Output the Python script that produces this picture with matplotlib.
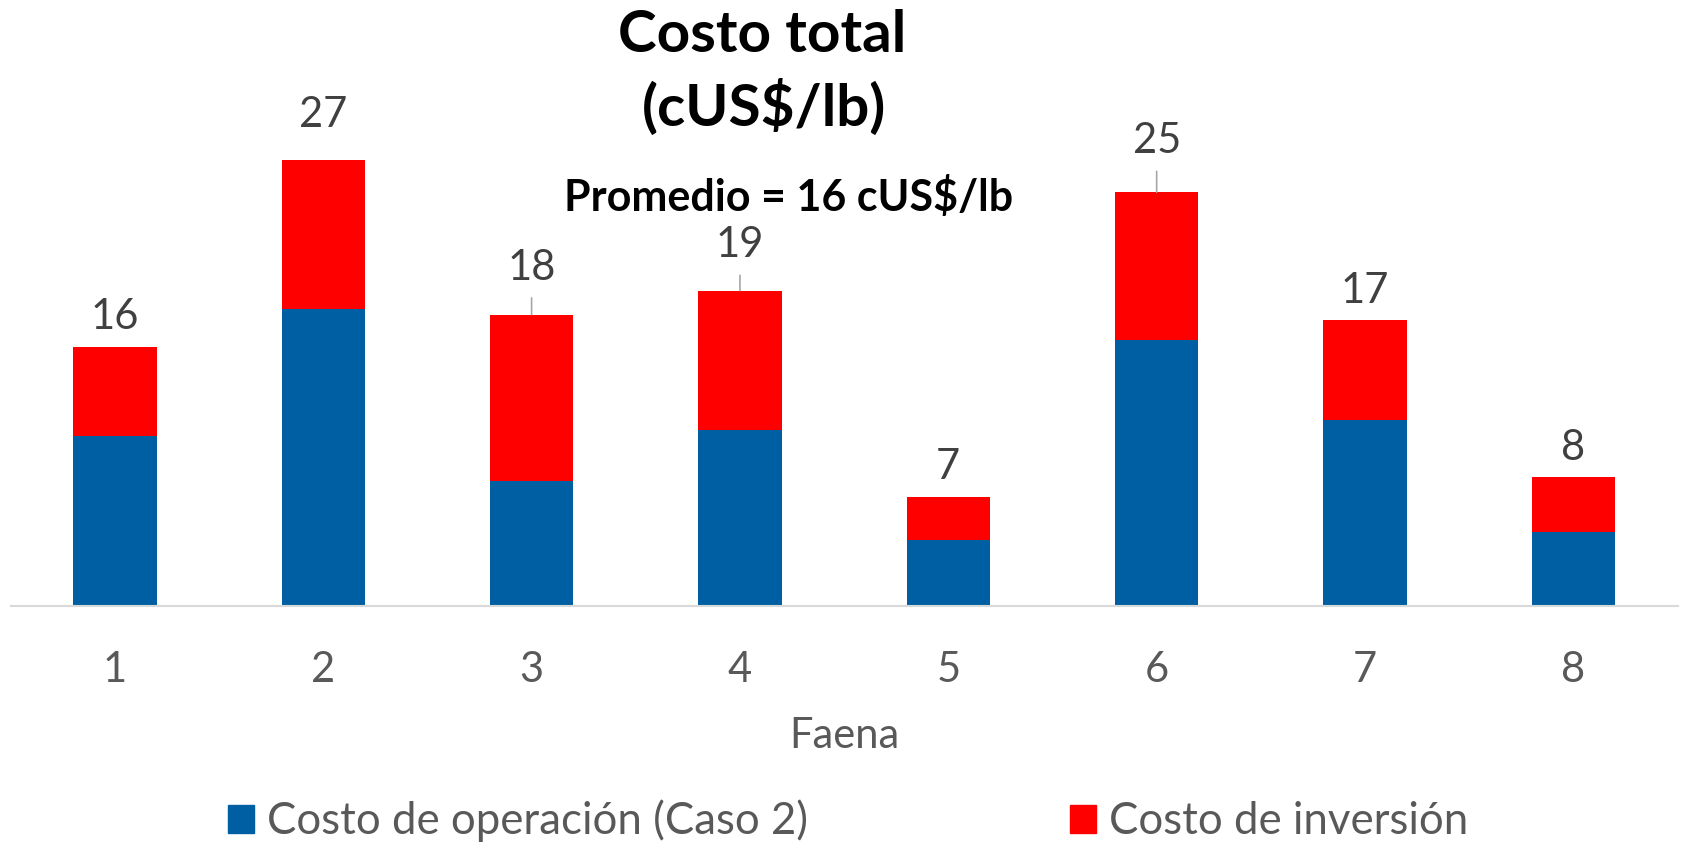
import numpy as np
import matplotlib
matplotlib.use("Agg")
import matplotlib.pyplot as plt
from matplotlib.patches import Patch

plt.rcParams['font.family'] = ['Lato', 'DejaVu Sans']

# datos
faenas = ['1', '2', '3', '4', '5', '6', '7', '8']
costo_operacion = [10.3, 18.0, 7.6, 10.7, 4.0, 16.1, 11.3, 4.5]
costo_inversion = [5.4, 9.0, 10.05, 8.4, 2.6, 8.95, 6.0, 3.3]
# desplazamiento extra de la etiqueta (con linea guia) en puntos
extra_lift = [0, 11, 12, 11, 0, 15, 0, 0]
con_guia = [False, False, True, True, False, True, False, False]

azul = '#005FA3'
rojo = '#FF0000'
gris_txt = '#595959'

fig = plt.figure(figsize=(16.83, 8.46), dpi=100)
ax = fig.add_axes([0.00636, 0.2831, 0.9904, 0.5865])

x = np.arange(len(faenas))
op = np.array(costo_operacion)
inv = np.array(costo_inversion)
total = op + inv

ax.bar(x, op, width=0.4, color=azul, label='Costo de operación (Caso 2)')
ax.bar(x, inv, width=0.4, bottom=op, color=rojo, label='Costo de inversión')

for xi, t, lift, guia in zip(x, total, extra_lift, con_guia):
    ax.annotate(f'{round(t):.0f}', xy=(xi, t), xytext=(0, 21.5 + lift),
                textcoords='offset points', ha='center', va='center',
                fontsize=30, color='#404040')
    if guia:
        ax.annotate('', xy=(xi, t), xytext=(0, lift), textcoords='offset points',
                    arrowprops=dict(arrowstyle='-', color='#a6a6a6', lw=1.2,
                                    shrinkA=0, shrinkB=0))

ax.set_xlim(-0.5, len(faenas) - 0.5)
ax.set_ylim(0, 30)
ax.set_xticks(x)
ax.set_xticklabels(faenas)
ax.tick_params(axis='x', length=0, pad=32, labelsize=30, labelcolor=gris_txt)
ax.set_yticks([])
for s in ['top', 'left', 'right']:
    ax.spines[s].set_visible(False)
ax.spines['bottom'].set_color('#d9d9d9')
ax.spines['bottom'].set_linewidth(1.5)

fig.text(0.5015, 0.130, 'Faena', ha='center', va='center', fontsize=30, color=gris_txt)

fig.text(0.4528, 0.9586, 'Costo total', ha='center', va='center',
         fontsize=42, fontweight='bold', color='black')
fig.text(0.454, 0.8735, '(cUS$/lb)', ha='center', va='center',
         fontsize=42, fontweight='bold', color='black')
fig.text(0.4688, 0.767, 'Promedio = 16 cUS$/lb', ha='center', va='center',
         fontsize=31, fontweight='bold', color='black')

handles = [Patch(color=azul), Patch(color=rojo)]
fig.legend(handles, ['Costo de operación (Caso 2)', 'Costo de inversión'],
           loc='center', bbox_to_anchor=(848 / 1683, 25 / 846), ncol=2,
           frameon=False, fontsize=31.5, labelcolor=gris_txt,
           handlelength=0.6, handleheight=0.6, handletextpad=0.29,
           columnspacing=6.0)

fig.savefig('out.png', dpi=100)
